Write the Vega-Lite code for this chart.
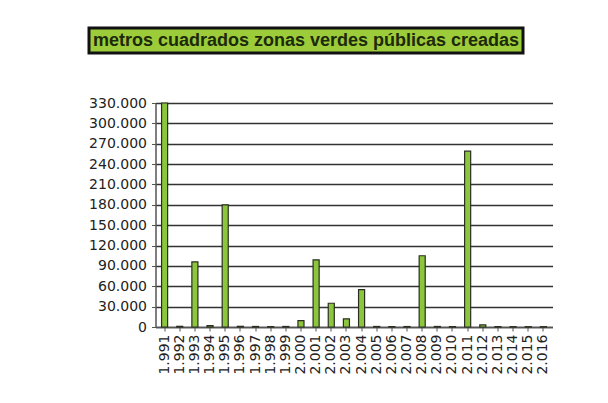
{
  "$schema": "https://vega.github.io/schema/vega-lite/v6.json",
  "background": "white",
  "padding": {"left": 87, "top": 26, "right": 10, "bottom": 10},
  "config": {
    "font": "DejaVu Sans",
    "locale": {"number": {"decimal": ",", "thousands": ".", "grouping": [3], "currency": ["", " €"]}}
  },
  "center": true,
  "spacing": 41,
  "vconcat": [
    {
      "width": 530,
      "height": 25,
      "view": {"stroke": null},
      "data": {"values": [{"t": "metros cuadrados zonas verdes públicas creadas"}]},
      "encoding": {
        "x": {"field": "t", "type": "nominal", "title": null, "axis": null,
              "scale": {"paddingInner": 0, "paddingOuter": 0.1106, "align": 0}}
      },
      "layer": [
        {"mark": {"type": "bar", "color": "#9dcc3a", "stroke": "#111111", "strokeWidth": 3}},
        {"mark": {"type": "text", "fontSize": 18, "fontWeight": "bold", "color": "#1c2a0a", "font": "Liberation Sans"},
         "encoding": {"text": {"field": "t", "type": "nominal"}}}
      ]
    },
    {
      "width": 397,
      "height": 224,
      "view": {"stroke": null},
      "data": {"values": [
        {"year": "1.991", "m2": 330000},
        {"year": "1.992", "m2": 1000},
        {"year": "1.993", "m2": 96000},
        {"year": "1.994", "m2": 2000},
        {"year": "1.995", "m2": 180000},
        {"year": "1.996", "m2": 1000},
        {"year": "1.997", "m2": 800},
        {"year": "1.998", "m2": 600},
        {"year": "1.999", "m2": 800},
        {"year": "2.000", "m2": 9500},
        {"year": "2.001", "m2": 99000},
        {"year": "2.002", "m2": 35000},
        {"year": "2.003", "m2": 12000},
        {"year": "2.004", "m2": 55000},
        {"year": "2.005", "m2": 800},
        {"year": "2.006", "m2": 600},
        {"year": "2.007", "m2": 700},
        {"year": "2.008", "m2": 105000},
        {"year": "2.009", "m2": 800},
        {"year": "2.010", "m2": 600},
        {"year": "2.011", "m2": 259000},
        {"year": "2.012", "m2": 3000},
        {"year": "2.013", "m2": 600},
        {"year": "2.014", "m2": 500},
        {"year": "2.015", "m2": 500},
        {"year": "2.016", "m2": 500}
      ]},
      "mark": {"type": "bar", "color": "#8cc63c", "stroke": "#2a2f22", "strokeWidth": 1.2},
      "encoding": {
        "x": {
          "field": "year", "type": "ordinal", "sort": null, "title": null,
          "scale": {"paddingInner": 0.6, "paddingOuter": 0.4},
          "axis": {"labelAngle": -90, "labelFontSize": 14, "labelColor": "#222222", "domainColor": "#555555", "domainWidth": 1.5, "tickColor": "#555555", "tickSize": 4, "labelPadding": 3}
        },
        "y": {
          "field": "m2", "type": "quantitative", "title": null,
          "scale": {"domain": [0, 330000], "nice": false},
          "axis": {"values": [0, 30000, 60000, 90000, 120000, 150000, 180000, 210000, 240000, 270000, 300000, 330000], "format": ",d", "labelFontSize": 14, "labelColor": "#222222", "gridColor": "#333333", "gridWidth": 1.5, "gridOpacity": 1, "domainColor": "#555555", "domainWidth": 1.5, "tickColor": "#555555", "tickSize": 4, "labelPadding": 5}
        }
      }
    }
  ]
}
